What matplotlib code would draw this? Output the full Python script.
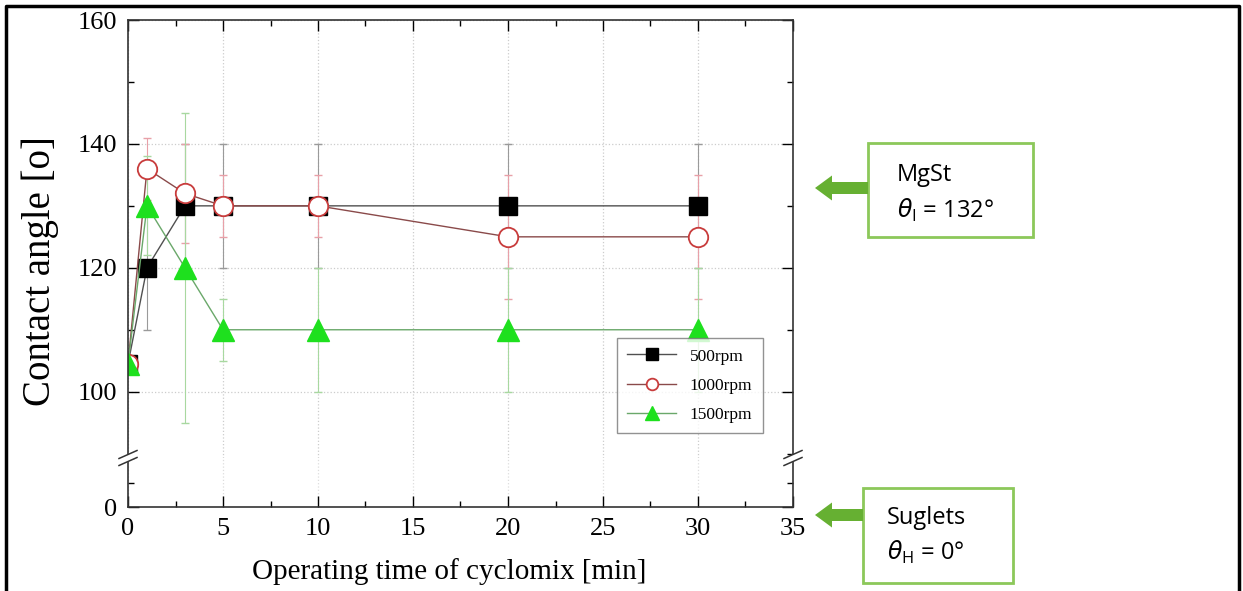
import matplotlib
matplotlib.use('Agg')
import matplotlib.pyplot as plt
from matplotlib.lines import Line2D
from matplotlib.patches import FancyArrow, Rectangle
from matplotlib.ticker import MultipleLocator

plt.rcParams['font.family'] = ['Liberation Serif', 'DejaVu Serif']
plt.rcParams['mathtext.fontset'] = 'dejavusans'

# data
time_min = [0, 1, 3, 5, 10, 20, 30]
angle_500 = [104.5, 120, 130, 130, 130, 130, 130]
err_500 = [0, 10, 10, 10, 10, 10, 10]
angle_1000 = [104.5, 136, 132, 130, 130, 125, 125]
err_1000 = [0, 5, 8, 5, 5, 10, 10]
angle_1500 = [104.5, 130, 120, 110, 110, 110, 110]
err_1500 = [0, 8, 25, 5, 10, 10, 10]
series_labels = ['500rpm', '1000rpm', '1500rpm']

W, H = 1243, 591
fig = plt.figure(figsize=(W / 100, H / 100), dpi=100)


def fx(px):
    return px / W


def fy(py):
    return 1 - py / H


x0, x1 = 128, 793
y_top, y_brk, y_bot = 20, 458, 507
ax = fig.add_axes([fx(x0), fy(y_brk), fx(x1) - fx(x0), fy(y_top) - fy(y_brk)])
axb = fig.add_axes([fx(x0), fy(y_bot), fx(x1) - fx(x0), fy(y_brk) - fy(y_bot)])

# upper part
ax.errorbar(time_min, angle_500, yerr=err_500, fmt='none', ecolor='#9a9a9a', elinewidth=0.8, capsize=3)
ax.errorbar(time_min, angle_1000, yerr=err_1000, fmt='none', ecolor='#e8a0a8', elinewidth=0.8, capsize=3)
ax.errorbar(time_min, angle_1500, yerr=err_1500, fmt='none', ecolor='#a8d8a0', elinewidth=0.8, capsize=3)
ax.plot(time_min, angle_500, color='#505050', lw=1.0, marker='s', ms=13.5,
        mfc='black', mec='black', label=series_labels[0])
ax.plot(time_min, angle_1000, color='#8a4a4a', lw=1.0, marker='o', ms=14,
        mfc='white', mec='#c83c3c', mew=1.3, label=series_labels[1])
ax.plot(time_min, angle_1500, color='#6aa86a', lw=1.0, marker='^', ms=16,
        mfc='#1ee01e', mec='#1ee01e', label=series_labels[2])

ax.set_xlim(0, 35)
ax.set_ylim(89.3, 160)
ax.set_yticks([100, 120, 140, 160])
ax.yaxis.set_minor_locator(MultipleLocator(10))
ax.xaxis.set_major_locator(MultipleLocator(5))
ax.xaxis.set_minor_locator(MultipleLocator(2.5))
ax.tick_params(which='both', direction='in', top=True, right=True, bottom=False,
               labelbottom=False, labelsize=19, width=1.0, pad=8)
ax.tick_params(which='major', length=8)
ax.tick_params(which='minor', length=4)
ax.spines['bottom'].set_visible(False)
ax.grid(True, which='major', color='#cccccc', linestyle=':', lw=0.9)

leg = ax.legend(loc='upper left', bbox_to_anchor=(fx(617), fy(338)), bbox_transform=fig.transFigure,
                borderaxespad=0, fancybox=False, edgecolor='#777777', fontsize=12.5,
                handlelength=2.8, markerscale=0.6, labelspacing=0.75, borderpad=0.6)
leg.get_frame().set_linewidth(1.0)

# lower part
axb.set_xlim(0, 35)
axb.set_ylim(0, 10)
axb.set_yticks([0])
axb.yaxis.set_minor_locator(MultipleLocator(5))
axb.xaxis.set_major_locator(MultipleLocator(5))
axb.xaxis.set_minor_locator(MultipleLocator(2.5))
axb.tick_params(which='both', direction='in', right=True, labelsize=19, width=1.0, pad=8)
axb.tick_params(which='major', length=8)
axb.tick_params(which='minor', length=4)
axb.spines['top'].set_visible(False)
axb.grid(True, axis='x', which='major', color='#dddddd', linestyle=':', lw=0.9)

for a in (ax, axb):
    for s in a.spines.values():
        s.set_linewidth(1.2)
        s.set_color('#333333')

# axis break marks
for xb in (x0, x1):
    fig.add_artist(Line2D([fx(xb - 9), fx(xb + 9)], [fy(y_brk + 4), fy(y_brk - 4)],
                          color='white', lw=5, transform=fig.transFigure))
    for dy in (-3.5, 3.5):
        fig.add_artist(Line2D([fx(xb - 9), fx(xb + 9)], [fy(y_brk + 4 + dy), fy(y_brk - 4 + dy)],
                              color='#333333', lw=1.1, transform=fig.transFigure))

fig.text(fx(40), fy(271), 'Contact angle [o]', rotation=90, ha='center', va='center', fontsize=28)
fig.text(fx(449), fy(572), 'Operating time of cyclomix [min]', ha='center', va='center', fontsize=21)

# callout boxes
tr = fig.dpi_scale_trans
boxes = [
    (868, 143, 1033, 237, 188, 897, 175, 210, 'MgSt', r'$\theta_{\mathregular{I}}$ = 132°'),
    (863, 488, 1013, 583, 515, 887, 518, 552, 'Suglets', r'$\theta_{\mathregular{H}}$ = 0°'),
]
for bx0, by0, bx1, by1, ay, tx, ty1, ty2, t1, t2 in boxes:
    fig.add_artist(Rectangle((bx0 / 100, (H - by1) / 100), (bx1 - bx0) / 100, (by1 - by0) / 100,
                             transform=tr, facecolor='white', edgecolor='#8cc85a', lw=2))
    fig.add_artist(FancyArrow(bx0 / 100, (H - ay) / 100, -(bx0 - 815) / 100, 0, width=0.12,
                              head_width=0.25, head_length=0.17, length_includes_head=True,
                              transform=tr, color='#66b032', lw=0))
    fig.text(tx / 100, (H - ty1) / 100, t1, transform=tr, fontsize=17,
             family=['Open Sans', 'DejaVu Sans'], va='center', ha='left')
    fig.text(tx / 100, (H - ty2) / 100, t2, transform=tr, fontsize=17,
             family=['Open Sans', 'DejaVu Sans'], va='center', ha='left')

# outer frame (left, top, right)
fig.add_artist(Line2D([fx(6), fx(6), fx(1239), fx(1239)], [0, fy(6), fy(6), 0],
                      color='black', lw=2.5, transform=fig.transFigure))

fig.savefig('out.png', dpi=100)
